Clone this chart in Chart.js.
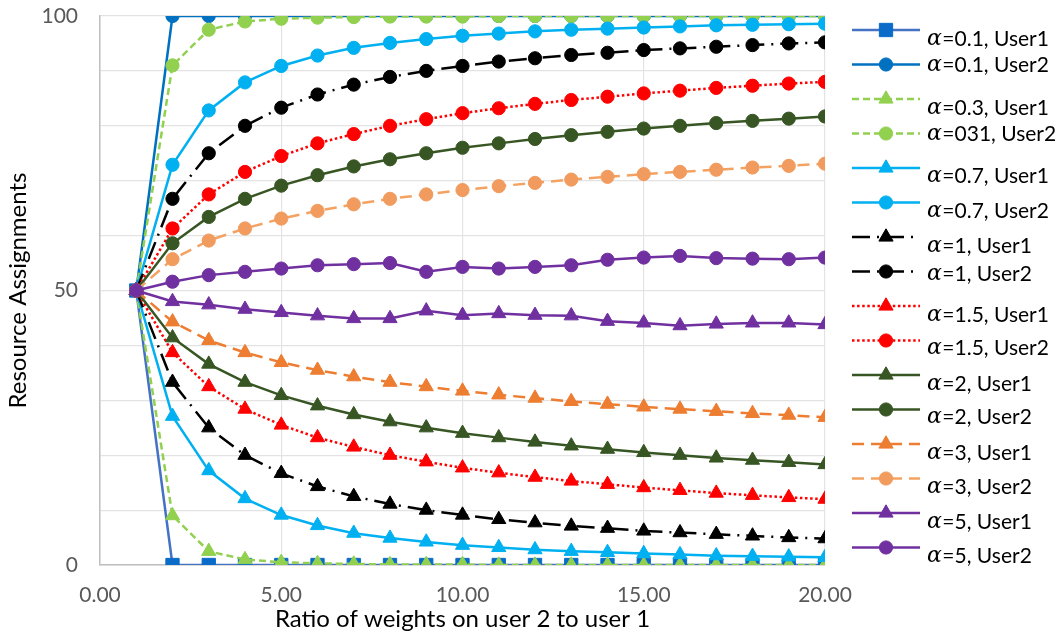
<!DOCTYPE html>
<html>
<head>
<meta charset="utf-8">
<script src="https://cdn.jsdelivr.net/npm/chart.js@4.4.1/dist/chart.umd.min.js"></script>
<style>
  html, body { margin: 0; padding: 0; background: #ffffff; }
  #wrap { width: 1064px; height: 637px; }
</style>
</head>
<body>
<div id="wrap"><canvas id="c" width="1064" height="637"></canvas></div>
<script>
// ---- data ----
const ratios = [1,2,3,4,5,6,7,8,9,10,11,12,13,14,15,16,17,18,19,20];
const xTickLabelsStep = 5;
const yLabelledTicks = [0, 50, 100];

const a01_u1 = [50,0,0,0,0,0,0,0,0,0,0,0,0,0,0,0,0,0,0,0];
const a01_u2 = [50,100,100,100,100,100,100,100,100,100,100,100,100,100,100,100,100,100,100,100];
const a03_u1 = [50,9.0,2.5,1.0,0.5,0.3,0.2,0.1,0.1,0.1,0,0,0,0,0,0,0,0,0,0];
const a03_u2 = [50,91.0,97.5,99.0,99.5,99.7,99.8,99.9,99.9,99.9,100,100,100,100,100,100,100,100,100,100];
const a07_u1 = [50,27.1,17.2,12.1,9.1,7.2,5.8,4.9,4.2,3.6,3.2,2.8,2.5,2.3,2.1,1.9,1.7,1.6,1.5,1.4];
const a07_u2 = [50,72.9,82.8,87.9,90.9,92.8,94.2,95.1,95.8,96.4,96.8,97.2,97.5,97.7,97.9,98.1,98.3,98.4,98.5,98.6];
const a1_u1  = [50,33.3,25.0,20.0,16.7,14.3,12.5,11.1,10.0,9.1,8.3,7.7,7.1,6.7,6.2,5.9,5.6,5.3,5.0,4.8];
const a1_u2  = [50,66.7,75.0,80.0,83.3,85.7,87.5,88.9,90.0,90.9,91.7,92.3,92.9,93.3,93.8,94.1,94.4,94.7,95.0,95.2];
const a15_u1 = [50,38.7,32.5,28.4,25.5,23.2,21.5,20.0,18.8,17.7,16.8,16.0,15.3,14.7,14.1,13.6,13.1,12.7,12.3,12.0];
const a15_u2 = [50,61.3,67.5,71.6,74.5,76.8,78.5,80.0,81.2,82.3,83.2,84.0,84.7,85.3,85.9,86.4,86.9,87.3,87.7,88.0];
const a2_u1  = [50,41.4,36.6,33.3,30.9,29.0,27.4,26.1,25.0,24.0,23.2,22.4,21.7,21.1,20.5,20.0,19.5,19.1,18.7,18.3];
const a2_u2  = [50,58.6,63.4,66.7,69.1,71.0,72.6,73.9,75.0,76.0,76.8,77.6,78.3,78.9,79.5,80.0,80.5,80.9,81.3,81.7];
const a3_u1  = [50,44.3,40.9,38.7,36.9,35.5,34.3,33.3,32.5,31.7,31.0,30.4,29.8,29.3,28.8,28.4,28.0,27.6,27.3,26.9];
const a3_u2  = [50,55.7,59.1,61.3,63.1,64.5,65.7,66.7,67.5,68.3,69.0,69.6,70.2,70.7,71.2,71.6,72.0,72.4,72.7,73.1];
const a5_u1  = [50,48.0,47.4,46.6,46.0,45.4,44.9,44.9,46.3,45.5,45.8,45.5,45.4,44.4,44.1,43.6,43.9,44.1,44.1,43.8];
const a5_u2  = [50,51.6,52.8,53.4,54.0,54.6,54.8,55.0,53.4,54.3,54.0,54.3,54.6,55.6,56.0,56.3,55.9,55.8,55.7,56.0];

const seriesLabels = [
  'α=0.1, User1','α=0.1, User2','α=0.3, User1','α=031, User2',
  'α=0.7, User1','α=0.7, User2','α=1, User1','α=1, User2',
  'α=1.5, User1','α=1.5, User2','α=2, User1','α=2, User2',
  'α=3, User1','α=3, User2','α=5, User1','α=5, User2'
];
const seriesValues = [a01_u1,a01_u2,a03_u1,a03_u2,a07_u1,a07_u2,a1_u1,a1_u2,
                      a15_u1,a15_u2,a2_u1,a2_u2,a3_u1,a3_u2,a5_u1,a5_u2];

// ---- styles ----
const styles = [
  {line:'#4472C4', fill:'#0A6CC8', marker:'rect',     dash:[]},
  {line:'#0070C0', fill:'#0070C0', marker:'circle',   dash:[]},
  {line:'#92D050', fill:'#92D050', marker:'triangle', dash:[7,4]},
  {line:'#92D050', fill:'#92D050', marker:'circle',   dash:[7,4]},
  {line:'#00B0F0', fill:'#00B0F0', marker:'triangle', dash:[]},
  {line:'#00B0F0', fill:'#00B0F0', marker:'circle',   dash:[]},
  {line:'#000000', fill:'#000000', marker:'triangle', dash:[18,7,2,7]},
  {line:'#000000', fill:'#000000', marker:'circle',   dash:[18,7,2,7]},
  {line:'#FF0000', fill:'#FF0000', marker:'triangle', dash:[2.5,2.6]},
  {line:'#FF0000', fill:'#FF0000', marker:'circle',   dash:[2.5,2.6]},
  {line:'#375623', fill:'#375623', marker:'triangle', dash:[]},
  {line:'#375623', fill:'#375623', marker:'circle',   dash:[]},
  {line:'#ED7D31', fill:'#ED7D31', marker:'triangle', dash:[12,7]},
  {line:'#F4A261', fill:'#F19B5E', marker:'circle',   dash:[12,7]},
  {line:'#7030A0', fill:'#7030A0', marker:'triangle', dash:[]},
  {line:'#7030A0', fill:'#7030A0', marker:'circle',   dash:[]}
];
const markerRadius = {circle:6.6, triangle:8.2, rect:9.4};

const datasets = seriesValues.map((vals, i) => {
  const s = styles[i];
  return {
    label: seriesLabels[i],
    data: ratios.map((r, k) => ({x: r, y: vals[k]})),
    borderColor: s.line,
    backgroundColor: s.fill,
    pointBackgroundColor: s.fill,
    pointBorderColor: s.fill,
    pointBorderWidth: 1,
    pointStyle: s.marker,
    pointRadius: markerRadius[s.marker],
    pointHoverRadius: markerRadius[s.marker],
    borderWidth: 2.5,
    borderDash: s.dash,
    tension: 0,
    fill: false,
    order: seriesValues.length - i
  };
});

const FONT = 'Lato, "Open Sans", "Noto Sans", sans-serif';

const legendPlugin = {
  id: 'customLegend',
  afterDraw(chart) {
    const ctx = chart.ctx;
    const x0 = 852, x1 = 920, mx = 886, tx = 927;
    const textOff = [9,1,9,1,8,9,9,3,9,8,9,8,9,9,9,9];
    chart.data.datasets.forEach((ds, i) => {
      const y = 30 + i * 34.5;
      ctx.save();
      ctx.strokeStyle = ds.borderColor;
      ctx.lineWidth = ds.borderWidth;
      ctx.setLineDash(ds.borderDash || []);
      ctx.beginPath();
      ctx.moveTo(x0, y);
      ctx.lineTo(x1, y);
      ctx.stroke();
      ctx.setLineDash([]);
      ctx.fillStyle = ds.pointBackgroundColor;
      ctx.strokeStyle = ds.pointBorderColor;
      ctx.lineWidth = 1;
      Chart.helpers.drawPoint(ctx, {pointStyle: ds.pointStyle, radius: ds.pointRadius, rotation: 0, borderWidth: 1}, mx, y);
      // text
      const ty = y + textOff[i];
      ctx.textBaseline = 'middle';
      ctx.textAlign = 'left';
      ctx.fillStyle = '#000000';
      const first = ds.label.charAt(0);
      const rest = ds.label.slice(1);
      ctx.font = 'italic 22px "DejaVu Serif", "Liberation Serif", serif';
      ctx.fillText(first, tx, ty);
      const w = ctx.measureText(first).width;
      ctx.font = '21px ' + FONT;
      ctx.fillText(rest, tx + w + 0.5, ty);
      ctx.restore();
    });
  }
};

new Chart(document.getElementById('c'), {
  type: 'line',
  data: { datasets },
  options: {
    responsive: false,
    animation: false,
    devicePixelRatio: 1,
    layout: { padding: { left: 0, right: 239, top: 16, bottom: 0 } },
    plugins: {
      legend: { display: false },
      tooltip: { enabled: false }
    },
    scales: {
      x: {
        type: 'linear',
        min: 0, max: 20,
        ticks: {
          stepSize: xTickLabelsStep,
          autoSkip: false,
          maxRotation: 0,
          color: '#595959',
          font: { family: FONT, size: 21 },
          padding: 18,
          callback: v => Number(v).toFixed(2)
        },
        grid: { color: '#E3E3E3', lineWidth: 1.2, drawTicks: false },
        border: { color: '#BFBFBF', width: 1.5 },
        title: {
          display: true,
          text: 'Ratio of weights on user 2 to user 1',
          color: '#000000',
          font: { family: FONT, size: 24 },
          padding: { top: 0, bottom: 3 }
        },
        afterFit: s => { s.height = 72; s.paddingLeft = 0; s.paddingRight = 0; }
      },
      y: {
        min: 0, max: 100,
        ticks: {
          stepSize: 10,
          autoSkip: false,
          color: '#595959',
          font: { family: FONT, size: 21 },
          padding: 22,
          callback: v => (yLabelledTicks.includes(v) ? String(v) : '')
        },
        grid: { color: '#E3E3E3', lineWidth: 1.2, drawTicks: false },
        border: { color: '#BFBFBF', width: 1.5 },
        title: {
          display: true,
          text: 'Resource Assignments',
          color: '#000000',
          font: { family: FONT, size: 24 },
          padding: { top: 4, bottom: 0 }
        },
        afterFit: s => { s.width = 100; s.paddingTop = 0; s.paddingBottom = 0; }
      }
    }
  },
  plugins: [legendPlugin]
});
</script>
</body>
</html>
